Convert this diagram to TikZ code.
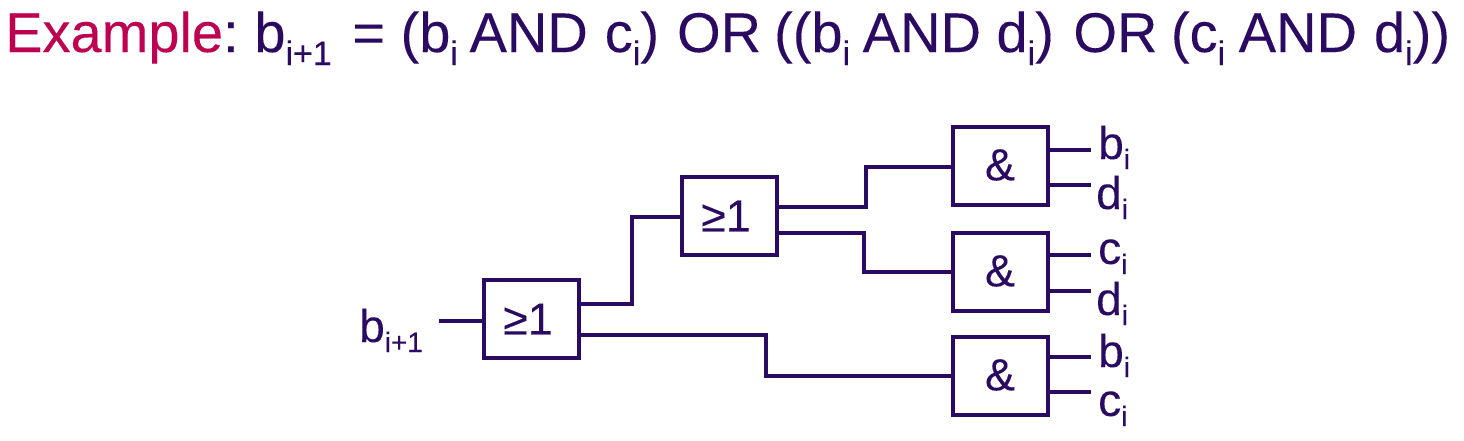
\documentclass[tikz,border=0pt]{standalone}
\usepackage{fontspec}
\setmainfont{Liberation Sans}[FakeBold=0.15]
\definecolor{ink}{HTML}{2B0B62}
\definecolor{accent}{HTML}{BE0050}
\newcommand{\ttlsub}[1]{\raisebox{-13pt}{\fontsize{34}{34}\selectfont #1}}
\newcommand{\lblsub}[1]{\raisebox{-10pt}{\fontsize{28}{28}\selectfont #1}}
\tikzset{
  gate/.style={draw=ink,line width=3.2pt,minimum width=95pt,minimum height=78pt,inner sep=0pt},
  gatelabel/.style={inner sep=0pt,text=ink,font=\fontsize{45}{45}\selectfont},
  wire/.style={draw=ink,line width=3.2pt,line join=miter},
  pin/.style={inner sep=0pt,anchor=base west,text=ink,font=\fontsize{46}{46}\selectfont},
  title/.style={inner sep=0pt,anchor=base west,text=ink,font=\fontsize{56}{56}\selectfont}
}
\begin{document}
\begin{tikzpicture}[x=1pt,y=-1pt]
\useasboundingbox (0,0) rectangle (1464,440);
\node[title] (heading) at (5,52) {\textcolor{accent}{Example}: \kern-5pt b\ttlsub{i+1} \kern5pt= (b\ttlsub{i} \kern-4pt AND \kern1.5pt c\ttlsub{i}) \kern2.5pt OR \kern-2.5pt ((b\ttlsub{i} \kern-3pt AND d\ttlsub{i}) \kern4pt OR \kern-2pt (c\ttlsub{i} \kern-2pt AND \kern1.5pt d\ttlsub{i}))};
\node[gate] (or1) at (531.5,319) {};
\node[gate] (or2) at (729.5,216) {};
\node[gate] (and1) at (1000.5,166) {};
\node[gate] (and2) at (1000.5,272) {};
\node[gate] (and3) at (1000.5,376) {};
\node[gatelabel] (tor1) at (528,319) {≥1};
\node[gatelabel] (tor2) at (726,216) {≥1};
\node[gatelabel] (tand1) at (1000,165) {\&};
\node[gatelabel] (tand2) at (1000,271) {\&};
\node[gatelabel] (tand3) at (1000,375) {\&};
\node[pin] (lout) at (359,342) {b\lblsub{i+1}};
\node[pin] (l1) at (1098,159) {b\lblsub{i}};
\node[pin] (l2) at (1096,209) {d\lblsub{i}};
\node[pin] (l3) at (1098,264) {c\lblsub{i}};
\node[pin] (l4) at (1096,315) {d\lblsub{i}};
\node[pin] (l5) at (1098,367) {b\lblsub{i}};
\node[pin] (l6) at (1098,416) {c\lblsub{i}};
\coordinate (eout) at (439,321);
\coordinate (e1) at (1091,150);
\coordinate (e2) at (1091,185);
\coordinate (e3) at (1091,255);
\coordinate (e4) at (1091,291);
\coordinate (e5) at (1091,357);
\coordinate (e6) at (1091,392);
\draw[wire] (eout) -- (or1.west |- eout);
\draw[wire] (or1.east |- 0,304) -- (632,304) -- (632,217) -- (or2.west |- 0,217);
\draw[wire] (or1.east |- 0,335) -- (766,335) -- (766,376) -- (and3.west |- 0,376);
\draw[wire] (or2.east |- 0,207) -- (866,207) -- (866,167) -- (and1.west |- 0,167);
\draw[wire] (or2.east |- 0,233) -- (864,233) -- (864,272) -- (and2.west |- 0,272);
\draw[wire] (and1.east |- e1) -- (e1);
\draw[wire] (and1.east |- e2) -- (e2);
\draw[wire] (and2.east |- e3) -- (e3);
\draw[wire] (and2.east |- e4) -- (e4);
\draw[wire] (and3.east |- e5) -- (e5);
\draw[wire] (and3.east |- e6) -- (e6);
\end{tikzpicture}
\end{document}
